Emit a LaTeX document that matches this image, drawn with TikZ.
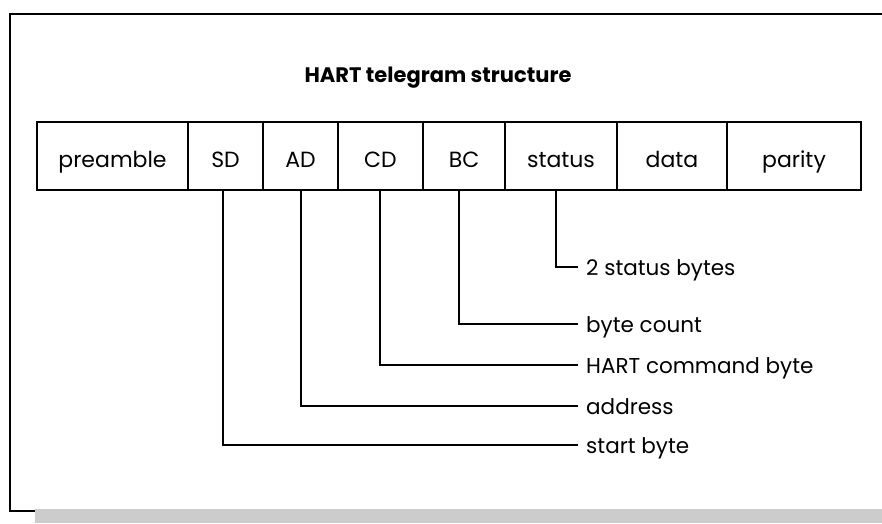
\documentclass[tikz,border=0pt]{standalone}
\usepackage{fontspec}
\setmainfont{Poppins}
\begin{document}
\begin{tikzpicture}[x=1pt,y=-1pt,
  cell/.style={draw=black,line width=1.6pt,minimum height=68pt,inner sep=0pt,text height=22pt,text depth=0pt,font=\fontsize{22}{26}\selectfont},
  lbl/.style={anchor=base west,inner sep=0pt,font=\fontsize{21.5}{26}\selectfont},
  conn/.style={draw=black,line width=1.6pt}]
\useasboundingbox (0,0) rectangle (882,523);
\fill[white] (0,0) rectangle (882,523);
% frame and shadow bar
\fill[black!20] (35,509) rectangle (882,523);
\draw[line width=2pt] (882,14) -- (10,14) -- (10,511) -- (35,511);
% title
\node[anchor=base,inner sep=0pt,font=\fontsize{21}{25}\selectfont\bfseries] (title) at (438,82) {HART telegram structure};
% cells
\node[cell,minimum width=151pt] (pre) at (112.5,156) {preamble};
\node[cell,minimum width=75pt] (sd) at (225.5,156) {SD};
\node[cell,minimum width=75pt] (ad) at (300.5,156) {AD};
\node[cell,minimum width=85pt] (cd) at (380.5,156) {CD};
\node[cell,minimum width=82pt] (bc) at (464,156) {BC};
\node[cell,minimum width=112pt] (st) at (561,156) {status};
\node[cell,minimum width=110pt] (da) at (672,156) {data};
\node[cell,minimum width=134pt] (pa) at (794,156) {parity};
% labels
\node[lbl] (l1) at (586,275) {2 status bytes};
\node[lbl] (l2) at (586,332) {byte count};
\node[lbl] (l3) at (586,373) {HART command byte};
\node[lbl] (l4) at (586,414) {address};
\node[lbl] (l5) at (586,453) {start byte};
\coordinate (e1) at (578,267);
\coordinate (e2) at (578,324);
\coordinate (e3) at (578,365);
\coordinate (e4) at (578,406);
\coordinate (e5) at (578,445);
% connectors
\draw[conn] ([xshift=-5pt]st.south) |- (e1);
\draw[conn] ([xshift=-5pt]bc.south) |- (e2);
\draw[conn] ([xshift=-0.5pt]cd.south) |- (e3);
\draw[conn] ([xshift=0.5pt]ad.south) |- (e4);
\draw[conn] ([xshift=-2.5pt]sd.south) |- (e5);
\end{tikzpicture}
\end{document}
